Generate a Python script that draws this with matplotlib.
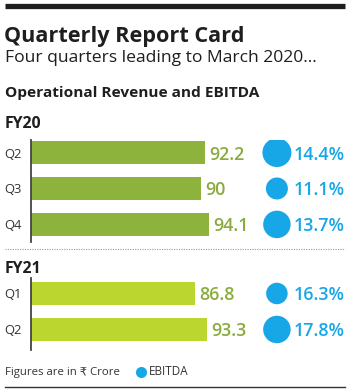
import matplotlib
matplotlib.use("Agg")
import matplotlib.pyplot as plt
from matplotlib.lines import Line2D

plt.rcParams['font.family'] = ['Open Sans', 'DejaVu Sans']

# ---- data ----
fy20_quarters = ["Q2", "Q3", "Q4"]
fy20_revenue = [92.2, 90.0, 94.1]
fy20_ebitda = [14.4, 11.1, 13.7]
fy20_bubble = [29, 22, 27.5]      # bubble diameters (px)

fy21_quarters = ["Q1", "Q2"]
fy21_revenue = [86.8, 93.3]
fy21_ebitda = [16.3, 17.8]
fy21_bubble = [21.5, 27.5]

title = "Quarterly Report Card"
subtitle = "Four quarters leading to March 2020..."
section = "Operational Revenue and EBITDA"
footer = "Figures are in \u20b9 Crore"

W, H = 350, 390
DPI = 100
GREEN1 = "#8db33c"
GREEN2 = "#bbd62e"
LABEL_GREEN = "#8aab3e"
BLUE = "#18a7e6"
DARK = "#1e1e1e"

fig = plt.figure(figsize=(W / DPI, H / DPI), dpi=DPI)
fig.patch.set_facecolor("white")


def fx(x):
    return x / W


def fy(y):
    return 1 - y / H


def add_ax(x0, y0, x1, y1):
    return fig.add_axes([fx(x0), fy(y1), (x1 - x0) / W, (y1 - y0) / H])


# top thick rule
fig.add_artist(Line2D([fx(5), fx(345)], [fy(5.5), fy(5.5)], color=DARK, lw=3.8,
                      solid_capstyle="butt"))

fig.text(fx(4), fy(42), title, fontsize=15.6, fontweight="bold", color=DARK, va="baseline")
fig.text(fx(5), fy(62), subtitle, fontsize=12.6, color=DARK, va="baseline")
fig.text(fx(5), fy(97), section, fontsize=11.1, fontweight="bold", color=DARK, va="baseline")
fig.text(fx(5), fy(128), "FY20", fontsize=11.4, fontweight="bold", color=DARK, va="baseline")
fig.text(fx(5), fy(273), "FY21", fontsize=11.4, fontweight="bold", color=DARK, va="baseline")

XMAX = 166
BUBBLE_X = 130
PCT_X = 139


def panel(ax, quarters, revenue, ebitda, bubble, color, ylim):
    ys = list(range(len(quarters)))
    ax.barh(ys, revenue, height=0.62, color=color, zorder=2)
    ax.scatter([BUBBLE_X] * len(ys), ys, s=[(d * 0.72) ** 2 for d in bubble],
               color=BLUE, zorder=3, linewidths=0)
    for y, v, e in zip(ys, revenue, ebitda):
        ax.text(v + 2.2, y, f"{v:g}", color=LABEL_GREEN, fontsize=12.9,
                fontweight="semibold", va="center_baseline", ha="left")
        ax.text(PCT_X, y, f"{e}%", color=BLUE, fontsize=12.9,
                fontweight="semibold", va="center_baseline", ha="left")
    ax.set_xlim(0, XMAX)
    ax.set_ylim(*ylim)
    ax.set_yticks(ys)
    ax.set_yticklabels(quarters, fontsize=9.4, color="#333333")
    ax.tick_params(axis="y", length=0, pad=7)
    ax.set_xticks([])
    for s in ["top", "right", "bottom"]:
        ax.spines[s].set_visible(False)
    ax.spines["left"].set_color("#444444")
    ax.spines["left"].set_linewidth(1.3)
    ax.patch.set_alpha(0)


ax1 = add_ax(31, 140, 345, 242)
panel(ax1, fy20_quarters, fy20_revenue, fy20_ebitda, fy20_bubble, GREEN1, (2.49, -0.35))

ax2 = add_ax(31, 278, 345, 350)
panel(ax2, fy21_quarters, fy21_revenue, fy21_ebitda, fy21_bubble, GREEN2, (1.57, -0.43))

# dotted separator
fig.add_artist(Line2D([fx(5), fx(345)], [fy(249), fy(249)], color="#999999", lw=0.8,
                      linestyle=(0, (1, 1.2))))

# footer
fig.text(fx(5), fy(375), footer, fontsize=8.2, color="#333333", va="baseline")
fig.add_artist(Line2D([fx(141)], [fy(371.5)], marker="o", markersize=8, color=BLUE,
                      markeredgewidth=0, linestyle="none"))
fig.text(fx(149), fy(375), "EBITDA", fontsize=8.4, color="#333333", va="baseline")

# bottom rule
fig.add_artist(Line2D([fx(5), fx(345)], [fy(386.5), fy(386.5)], color="#333333", lw=1.0))

fig.savefig("out.png", dpi=DPI, facecolor="white")
